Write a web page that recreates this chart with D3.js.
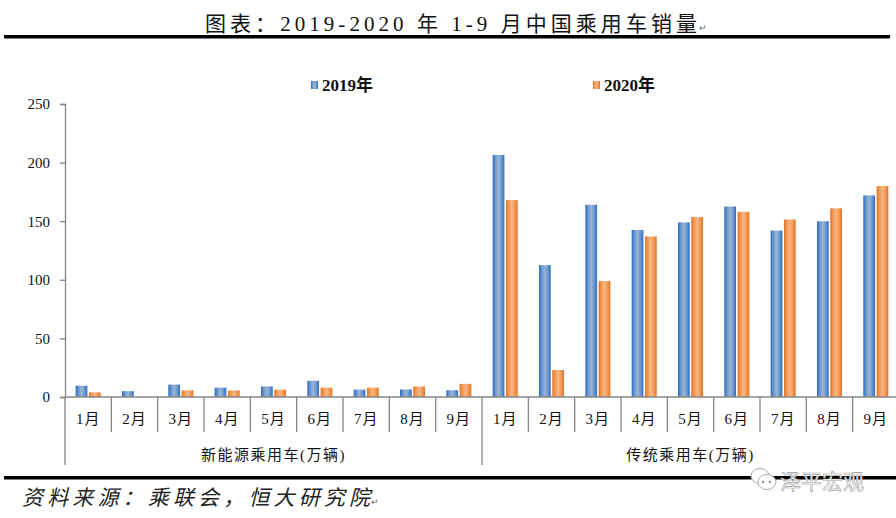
<!DOCTYPE html>
<html>
<head>
<meta charset="utf-8">
<script src="https://cdnjs.cloudflare.com/ajax/libs/d3/7.8.5/d3.min.js"></script>
<style>
  body { margin: 0; background: #fff; }
  svg { display: block; }
</style>
</head>
<body>
<svg id="chart" width="896" height="518"></svg>
<script>
// data
const groups = ['新能源乘用车(万辆)', '传统乘用车(万辆)'];
const months = ['1月', '2月', '3月', '4月', '5月', '6月', '7月', '8月', '9月'];
const series = ['2019年', '2020年'];
const nev2019 = [9.6, 5.0, 10.6, 8.0, 9.0, 13.8, 6.3, 6.4, 5.8];
const nev2020 = [4.0, 0, 5.7, 5.6, 6.2, 8.0, 8.0, 9.0, 11.2];
const ice2019 = [206.5, 112.5, 164, 142.5, 149, 162.5, 142, 150, 172];
const ice2020 = [168, 23, 99, 137, 153.5, 158, 151.5, 161, 180];
const yTicks = [0, 50, 100, 150, 200, 250];

const svg = d3.select('#chart');
const serif = '"Liberation Serif", "Noto Sans CJK SC", serif';
const cjk = '"Liberation Serif", "Noto Sans CJK SC", sans-serif';

// gradients for the bars
const defs = svg.append('defs');
function grad(id, edge, mid, inner) {
  const g = defs.append('linearGradient').attr('id', id)
    .attr('x1', '0%').attr('x2', '100%').attr('y1', '0%').attr('y2', '0%');
  g.append('stop').attr('offset', '0%').attr('stop-color', edge);
  g.append('stop').attr('offset', '18%').attr('stop-color', mid);
  g.append('stop').attr('offset', '50%').attr('stop-color', inner);
  g.append('stop').attr('offset', '82%').attr('stop-color', mid);
  g.append('stop').attr('offset', '100%').attr('stop-color', edge);
}
grad('g2019', '#2866bd', '#5d8fcf', '#9fb5d2');
grad('g2020', '#e2701f', '#f0914a', '#f9b683');
const fills = ['url(#g2019)', 'url(#g2020)'];

// title
svg.append('text')
  .attr('x', 205).attr('y', 31)
  .attr('textLength', 492).attr('lengthAdjust', 'spacing')
  .attr('font-family', cjk).attr('font-size', 21).attr('fill', '#111')
  .text('图表：2019-2020 年 1-9 月中国乘用车销量');
svg.append('text')
  .attr('x', 699).attr('y', 31)
  .attr('font-family', cjk).attr('font-size', 9).attr('fill', '#666')
  .text('↵');
svg.append('rect').attr('x', 4).attr('y', 35).attr('width', 886).attr('height', 3.5).attr('fill', '#000');

// scales
const x0 = 65, x1 = 899;
const cats = [];
groups.forEach((g, gi) => months.forEach((m, mi) => cats.push({ g: gi, m: mi, label: m })));
const x = d3.scaleBand().domain(d3.range(cats.length)).range([x0, x1]);
const y = d3.scaleLinear().domain([0, 250]).range([397, 104]);

const xs = d3.scaleBand().domain(series).range([x.bandwidth() / 2 - 12.5, x.bandwidth() / 2 + 12.5]).paddingInner(0.12);

// y axis
const yAxis = svg.append('g')
  .attr('transform', `translate(${x0},0)`)
  .call(d3.axisLeft(y).tickValues(yTicks).tickSize(5).tickPadding(10));
yAxis.select('.domain').attr('stroke', '#868686').attr('stroke-width', 1.3);
yAxis.selectAll('.tick line').attr('stroke', '#868686').attr('stroke-width', 1.3);
yAxis.selectAll('.tick text').attr('font-family', serif).attr('font-size', 15).attr('fill', '#111');

// bars
const rows = [];
cats.forEach((c, i) => {
  const vals = c.g === 0 ? [nev2019[c.m], nev2020[c.m]] : [ice2019[c.m], ice2020[c.m]];
  vals.forEach((v, si) => rows.push({ i, s: series[si], si, v }));
});
svg.append('g').selectAll('rect')
  .data(rows.filter(d => d.v > 0))
  .join('rect')
  .attr('x', d => x(d.i) + xs(d.s))
  .attr('width', xs.bandwidth())
  .attr('y', d => y(d.v))
  .attr('height', d => y(0) - y(d.v))
  .attr('fill', d => fills[d.si]);

// x axis line and category separators
const ax = svg.append('g').attr('stroke', '#868686').attr('stroke-width', 1.3);
ax.append('line').attr('x1', x0).attr('x2', x1).attr('y1', 397).attr('y2', 397);
d3.range(cats.length + 1).forEach(i => {
  const xx = i < cats.length ? x(i) : x1;
  const long = i % months.length === 0;
  ax.append('line').attr('x1', xx).attr('x2', xx).attr('y1', 397).attr('y2', long ? 465 : 432);
});

// month labels
svg.append('g').selectAll('text')
  .data(cats)
  .join('text')
  .attr('x', (d, i) => x(i) + x.bandwidth() / 2)
  .attr('y', 424)
  .attr('text-anchor', 'middle')
  .attr('font-family', cjk).attr('font-size', 15).attr('fill', '#111')
  .attr('letter-spacing', 1)
  .text(d => d.label);

// group labels
svg.append('g').selectAll('text')
  .data(groups)
  .join('text')
  .attr('x', (d, gi) => x(gi * months.length) + x.bandwidth() * months.length / 2)
  .attr('y', 460)
  .attr('text-anchor', 'middle')
  .attr('font-family', cjk).attr('font-size', 15).attr('fill', '#111')
  .attr('letter-spacing', 1.5)
  .text(d => d);

// legend
const legendX = [311, 593];
const lg = svg.append('g').selectAll('g')
  .data(series)
  .join('g')
  .attr('transform', (d, i) => `translate(${legendX[i]},81)`);
lg.append('rect').attr('width', 7).attr('height', 8).attr('fill', (d, i) => fills[i]);
lg.append('text')
  .attr('x', 11).attr('y', 10)
  .attr('font-family', cjk).attr('font-size', 17).attr('font-weight', 'bold').attr('fill', '#111')
  .text(d => d);

// bottom rule
svg.append('rect').attr('x', 4).attr('y', 476).attr('width', 892).attr('height', 3.5).attr('fill', '#000');

// watermark
const wm = svg.append('g');
wm.append('ellipse').attr('cx', 760).attr('cy', 476).attr('rx', 9).attr('ry', 7.5)
  .attr('fill', '#fff').attr('stroke', '#aaa').attr('stroke-width', 1);
wm.append('ellipse').attr('cx', 767).attr('cy', 482).attr('rx', 9).attr('ry', 7.5)
  .attr('fill', '#fff').attr('stroke', '#aaa').attr('stroke-width', 1);
wm.selectAll('circle').data([763, 770]).join('circle')
  .attr('cx', d => d).attr('cy', 482).attr('r', 1.2).attr('fill', '#888');
wm.append('text')
  .attr('x', 780).attr('y', 489)
  .attr('font-family', '"Noto Sans CJK SC", sans-serif').attr('font-size', 21)
  .attr('fill', '#fff').attr('stroke', '#9a9a9a').attr('stroke-width', 0.6)
  .text('泽平宏观');

// source
svg.append('text')
  .attr('x', 22).attr('y', 505)
  .attr('textLength', 348).attr('lengthAdjust', 'spacing')
  .attr('font-family', cjk).attr('font-size', 21).attr('font-style', 'italic').attr('fill', '#222')
  .text('资料来源：乘联会，恒大研究院');
svg.append('text')
  .attr('x', 371).attr('y', 505)
  .attr('font-family', cjk).attr('font-size', 9).attr('fill', '#666')
  .text('↵');
</script>
</body>
</html>
